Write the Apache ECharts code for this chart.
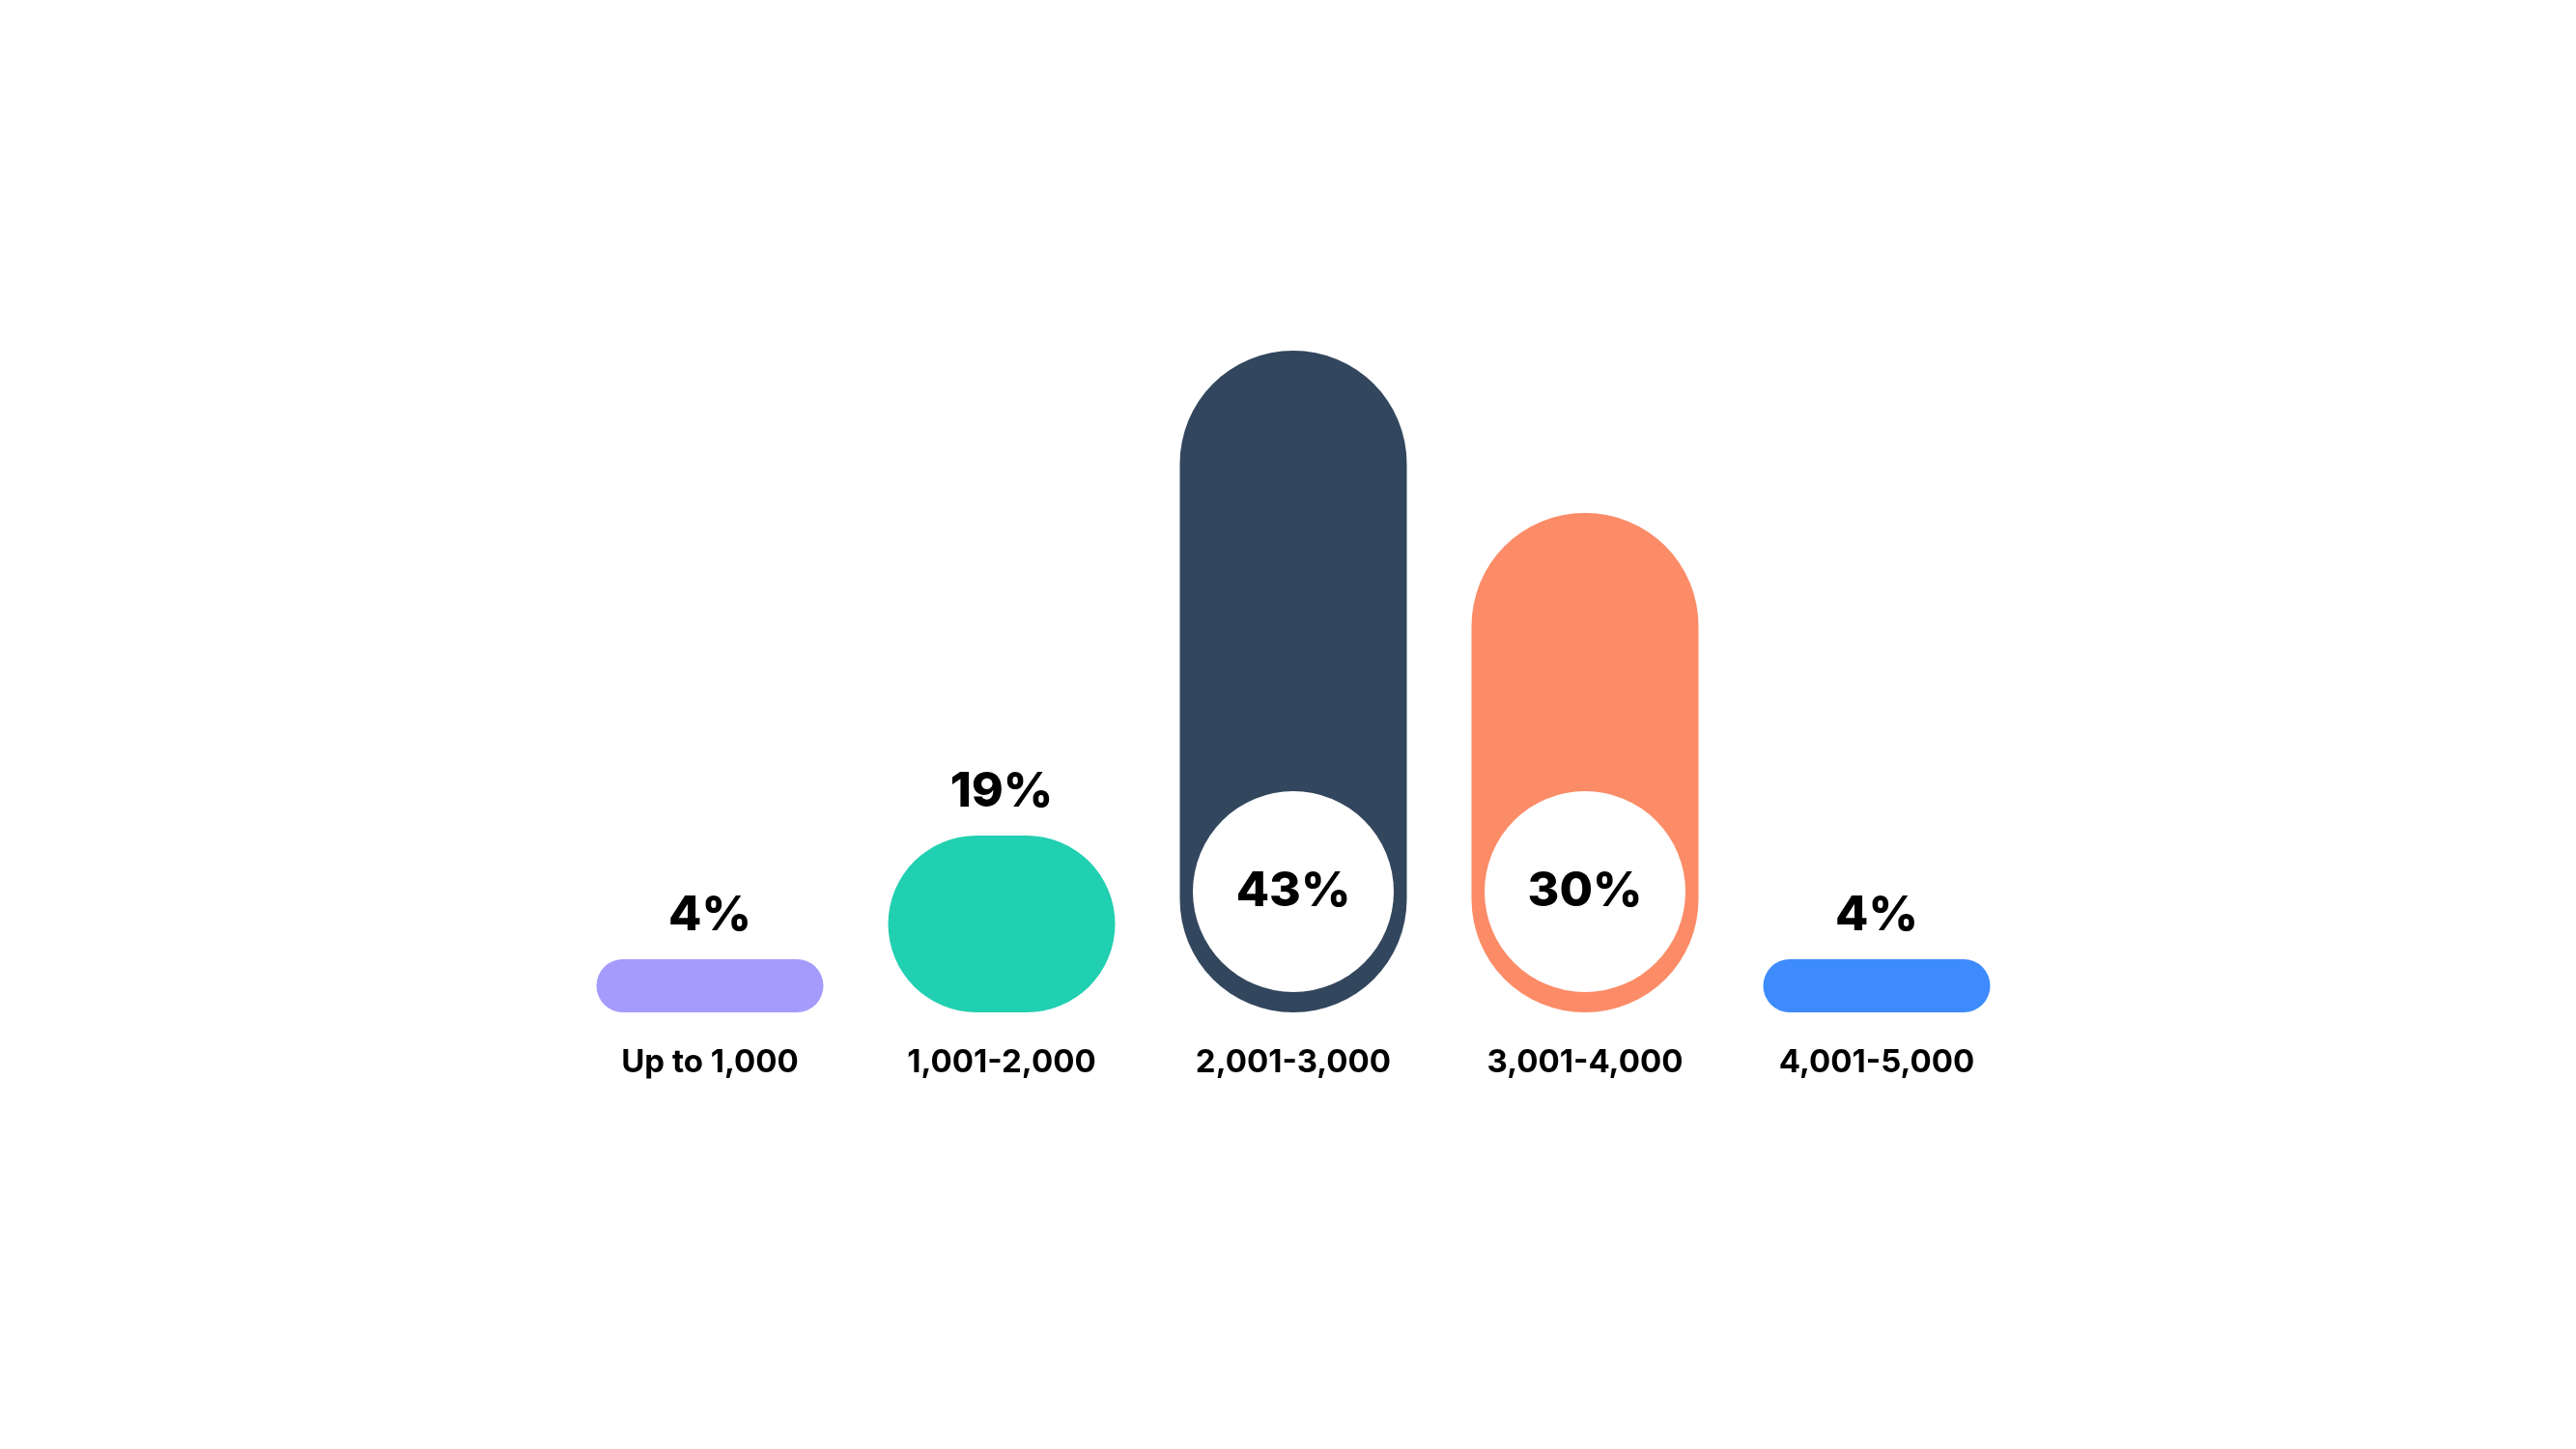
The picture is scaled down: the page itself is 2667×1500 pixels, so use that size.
<!DOCTYPE html>
<html>
<head>
<meta charset="utf-8">
<script src="https://cdn.jsdelivr.net/npm/echarts@6/dist/echarts.min.js"></script>
<style>
  html, body { margin: 0; padding: 0; background: #fff; }
  #main { width: 2667px; height: 1500px; }
</style>
</head>
<body>
<div id="main"></div>
<script>
// categories and shares as printed on the chart
const categories = ['Up to 1,000', '1,001-2,000', '2,001-3,000', '3,001-4,000', '4,001-5,000'];
const shares = [4, 19, 43, 30, 4];
// drawn bar lengths (the design does not scale bars to the shares)
const barLength = [55, 183, 685, 517, 55];
// height of the white disc centre for the tall bars, same units
const discCentre = [null, null, 125, 125, null];
const colors = ['#A59BFC', '#21CFB1', '#32465D', '#FB8C67', '#3E8BFD'];

const font = 'Inter';

var myChart = echarts.init(document.getElementById('main'));

const barData = barLength.map((v, i) => ({
  value: v,
  itemStyle: { color: colors[i] },
  label: { show: discCentre[i] == null }
}));

myChart.setOption({
  backgroundColor: '#ffffff',
  animation: false,
  grid: { left: 584, right: 573, top: 348, bottom: 452 },
  xAxis: {
    type: 'category',
    data: categories,
    axisLine: { show: false },
    axisTick: { show: false },
    axisLabel: {
      margin: 36,
      color: '#000',
      fontFamily: font,
      fontWeight: 'bold',
      fontSize: 33
    }
  },
  yAxis: {
    type: 'value',
    min: 0,
    max: 700,
    show: false,
    splitLine: { show: false }
  },
  series: [
    {
      type: 'bar',
      data: barData,
      barWidth: 235,
      itemStyle: { borderRadius: 117 },
      label: {
        position: 'top',
        distance: 20,
        color: '#000',
        fontFamily: font,
        fontWeight: 800,
        fontSize: 50,
        formatter: p => shares[p.dataIndex] + '%'
      }
    },
    {
      type: 'scatter',
      data: discCentre,
      symbol: 'circle',
      symbolSize: 208,
      silent: true,
      itemStyle: { color: '#ffffff', opacity: 1 },
      label: {
        show: true,
        position: 'inside',
        color: '#000',
        fontFamily: font,
        fontWeight: 800,
        fontSize: 50,
        formatter: p => shares[p.dataIndex] + '%'
      },
      z: 3
    }
  ]
});
</script>
</body>
</html>
